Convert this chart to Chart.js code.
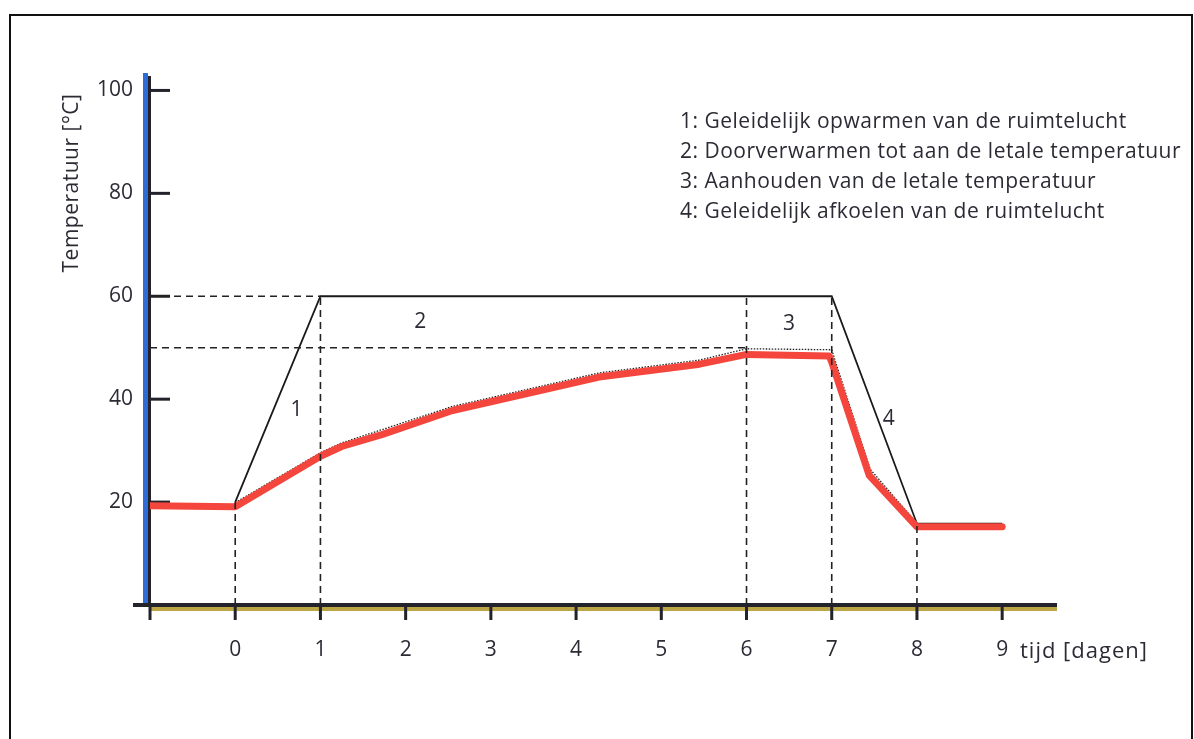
<!DOCTYPE html>
<html>
<head>
<meta charset="utf-8">
<script src="https://cdn.jsdelivr.net/npm/chart.js@4.4.1/dist/chart.umd.min.js"></script>
<style>
  html, body { margin: 0; padding: 0; background: #fff; }
  #wrap { width: 1194px; height: 739px; position: relative; }
</style>
</head>
<body>
<div id="wrap"><canvas id="chart" width="1194" height="739"></canvas></div>
<script>
// tijd in dagen, temperatuur in graden C
var days = [-1, 0, 1, 1.25, 1.72, 2.55, 3.45, 4.27, 5.45, 6, 6.97, 7, 7.44, 8, 9];
var measured = [19.3, 19.1, 28.9, 30.8, 33.1, 37.8, 41.2, 44.3, 46.8, 48.7, 48.4, 47.2, 25.2, 15.2, 15.2];

var dottedDays = [0, 1, 1.25, 2.55, 4.27, 5.45, 6, 7, 7.45, 8];
var dottedTemp = [19.9, 29.6, 31.5, 38.6, 45.1, 47.6, 49.8, 49.6, 26.4, 15.9];

var phaseDays = [0, 1, 7, 8, 9];
var phaseTemp = [20, 60, 60, 15.8, 15.8];

// hulplijnen (gestreept), null = onderbreking
var guideDays = [-1, 1, null, -1, 6, null, 0, 0, null, 1, 1, null, 6, 6, null, 7, 7, null, 8, 8];
var guideTemp = [60, 60, null, 50, 50, null, 0, 20, null, 0, 60, null, 0, 60, null, 0, 60, null, 0, 16];

var xTicks = [0, 1, 2, 3, 4, 5, 6, 7, 8, 9];
var yTicks = [20, 40, 60, 80, 100];

var legendLines = [
    '1: Geleidelijk opwarmen van de ruimtelucht',
    '2: Doorverwarmen tot aan de letale temperatuur',
    '3: Aanhouden van de letale temperatuur',
    '4: Geleidelijk afkoelen van de ruimtelucht'
];
var phaseLabels = ['1', '2', '3', '4'];
var phaseLabelDays = [0.72, 2.17, 6.5, 7.67];
var phaseLabelTemp = [37.8, 54.9, 54.6, 36.2];

function pts(xs, ys) {
    return xs.map(function (x, i) { return { x: x, y: ys[i] }; });
}

var FONT = '"Open Sans", sans-serif';
var INK = '#2b2b35';

var drawExtras = {
    id: 'drawExtras',
    beforeDatasetsDraw: function (chart) {
        var ctx = chart.ctx;
        var xs = chart.scales.x, ys = chart.scales.y;
        var left = xs.getPixelForValue(-1);
        var bottom = ys.getPixelForValue(0);
        ctx.save();
        // kader
        ctx.strokeStyle = '#111';
        ctx.lineWidth = 2;
        ctx.strokeRect(10, 15, 1182, 740);
        // blauwe as
        ctx.fillStyle = '#2f6bd6';
        ctx.fillRect(left - 7, 73, 5, bottom - 71);
        // olijf band
        ctx.fillStyle = '#bba544';
        ctx.fillRect(left, bottom + 1, 1057 - left, 5);
        // zwarte assen
        ctx.fillStyle = '#23232b';
        ctx.fillRect(left - 2, 76, 3, bottom - 74);
        ctx.fillRect(133, bottom - 2, 1057 - 133, 4);
        // y ticks naar binnen
        yTicks.forEach(function (v) {
            var y = ys.getPixelForValue(v);
            ctx.fillRect(left, y - 1.5, 20, 3);
        });
        // x ticks naar beneden
        [-1].concat(xTicks).forEach(function (v) {
            var x = xs.getPixelForValue(v);
            ctx.fillRect(x - 1.5, bottom, 3, 15);
        });
        ctx.restore();
    },
    afterDatasetsDraw: function (chart) {
        var ctx = chart.ctx;
        var xs = chart.scales.x, ys = chart.scales.y;
        ctx.save();
        ctx.fillStyle = INK;
        ctx.font = '21px ' + FONT;
        ctx.textAlign = 'center';
        ctx.textBaseline = 'middle';
        phaseLabels.forEach(function (t, i) {
            ctx.fillText(t, xs.getPixelForValue(phaseLabelDays[i]), ys.getPixelForValue(phaseLabelTemp[i]));
        });
        // legenda tekst
        ctx.textAlign = 'left';
        ctx.font = '21px ' + FONT;
        ctx.letterSpacing = '0.5px';
        legendLines.forEach(function (t, i) {
            ctx.fillText(t, 680, 122 + i * 30);
        });
        // as titels
        ctx.font = '22px ' + FONT;
        ctx.letterSpacing = '1px';
        ctx.fillText('tijd [dagen]', 1020, 652);
        ctx.translate(72, 183);
        ctx.rotate(-Math.PI / 2);
        ctx.textAlign = 'center';
        ctx.font = '21px ' + FONT;
        ctx.letterSpacing = '0.5px';
        ctx.fillText('Temperatuur [\u00B0C]', 0, 0);
        ctx.restore();
    }
};

new Chart(document.getElementById('chart'), {
    type: 'line',
    data: {
        datasets: [
            {
                data: pts(guideDays, guideTemp),
                borderColor: '#222',
                borderWidth: 1.6,
                borderDash: [7, 5],
                spanGaps: false,
                pointRadius: 0
            },
            {
                data: pts(days, measured),
                borderColor: '#f4463c',
                borderWidth: 7,
                borderCapStyle: 'round',
                borderJoinStyle: 'round',
                pointRadius: 0
            },
            {
                data: pts(dottedDays, dottedTemp),
                borderColor: '#222',
                borderWidth: 1.3,
                borderDash: [1.5, 1.5],
                pointRadius: 0
            },
            {
                data: pts(phaseDays, phaseTemp),
                borderColor: '#1a1a1a',
                borderWidth: 1.8,
                pointRadius: 0
            }
        ]
    },
    options: {
        responsive: false,
        animation: false,
        layout: { padding: { top: 75, right: 139, left: 0, bottom: 0 } },
        plugins: { legend: { display: false }, tooltip: { enabled: false } },
        scales: {
            x: {
                type: 'linear',
                min: -1,
                max: 9.62,
                afterFit: function (s) { s.height = 134; },
                afterBuildTicks: function (s) { s.ticks = xTicks.map(function (v) { return { value: v }; }); },
                grid: { display: false, drawTicks: false },
                border: { display: false },
                ticks: { padding: 32, color: INK, font: { family: FONT, size: 21 }, maxRotation: 0 }
            },
            y: {
                min: 0,
                max: 103,
                afterFit: function (s) { s.width = 150; },
                afterBuildTicks: function (s) { s.ticks = yTicks.map(function (v) { return { value: v }; }); },
                grid: { display: false, drawTicks: false },
                border: { display: false },
                ticks: { padding: 17, color: INK, font: { family: FONT, size: 21 } }
            }
        }
    },
    plugins: [drawExtras]
});
</script>
</body>
</html>
